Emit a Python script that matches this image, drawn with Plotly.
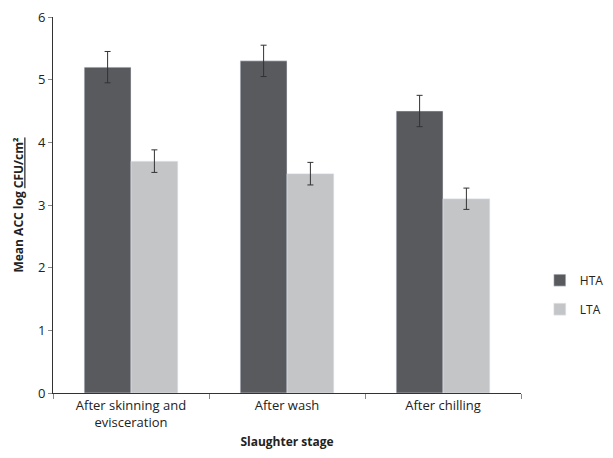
import plotly.graph_objects as go

categories = ["After skinning and<br>evisceration", "After wash", "After chilling"]
hta = [5.2, 5.3, 4.5]
hta_err = [0.25, 0.25, 0.25]
lta = [3.7, 3.5, 3.1]
lta_err = [0.18, 0.18, 0.17]

fig = go.Figure()
fig.add_trace(go.Bar(name="HTA", x=categories, y=hta, marker_color="#595a5e", legendgroup="a",
                     error_y=dict(type="data", array=hta_err, color="#333333", thickness=1, width=3)))
fig.add_trace(go.Bar(name="LTA", x=categories, y=lta, marker_color="#c4c5c7", legendgroup="b",
                     error_y=dict(type="data", array=lta_err, color="#333333", thickness=1, width=3)))

# page body has an 8px default margin, so the figure is sized 8px smaller
fig.update_layout(
    width=605, height=450,
    margin=dict(l=45, r=92, t=9, b=65, autoexpand=False),
    barmode="group", bargap=0.4, bargroupgap=0,
    plot_bgcolor="white", paper_bgcolor="white",
    font=dict(family="Open Sans, Liberation Sans, sans-serif", size=12, color="#222222"),
    legend=dict(xref="container", yref="container", x=0.879, y=0.363, xanchor="left", yanchor="middle",
                font=dict(size=12), itemwidth=30, traceorder="grouped", tracegroupgap=10),
    showlegend=True,
)
fig.update_xaxes(showline=True, linecolor="#333333", linewidth=1, ticks="outside",
                 tickson="boundaries", ticklen=5, tickcolor="#888888", automargin=False,
                 tickfont=dict(size=13),
                 title=dict(text="<b>Slaughter stage</b>", font=dict(size=12), standoff=8))
fig.update_yaxes(range=[0, 6], dtick=1, showline=True, linecolor="#333333", linewidth=1,
                 ticks="outside", ticklen=4, tickcolor="#888888", showgrid=False, zeroline=False,
                 automargin=False, tickfont=dict(size=13), ticklabeloverflow="allow",
                 title=dict(text="<b>Mean ACC log <u>CFU/cm²</u></b>", font=dict(size=12), standoff=11))

fig.write_html("out.html")
